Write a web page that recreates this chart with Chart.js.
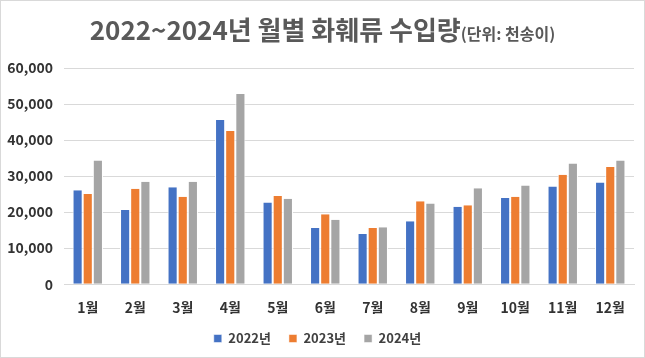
<!DOCTYPE html>
<html>
<head>
<meta charset="utf-8">
<script src="https://cdn.jsdelivr.net/npm/chart.js@4"></script>
<style>
  html, body { margin: 0; padding: 0; background: #fff; }
  .frame {
    position: relative;
    width: 643px; height: 356px;
    border: 1px solid #d9d9d9;
    font-family: "Noto Sans CJK KR", "Noto Sans", sans-serif;
  }
  .title {
    position: absolute; left: 0; right: 0; top: 13px;
    text-align: center; color: #595959; font-weight: bold;
    font-size: 26px; line-height: 30px; white-space: nowrap;
  }
  .title small { font-size: 16px; }
  canvas { position: absolute; left: 0; top: 0; }
</style>
</head>
<body>
<div class="frame">
  <canvas id="myChart" width="643" height="356"></canvas>
  <div class="title">2022~2024년 월별 화훼류 수입량<small>(단위: 천송이)</small></div>
</div>
<script>
// 월별 라벨
const meses = ['1월', '2월', '3월', '4월', '5월', '6월', '7월', '8월', '9월', '10월', '11월', '12월'];

// 연도별 수입량 (천송이)
const dados2022 = [26100, 20600, 26900, 45600, 22700, 15600, 13900, 17500, 21500, 23900, 27100, 28200];
const dados2023 = [25000, 26500, 24300, 42500, 24500, 19400, 15600, 23000, 21900, 24300, 30400, 32500];
const dados2024 = [34300, 28400, 28400, 52800, 23700, 17900, 15800, 22400, 26600, 27400, 33500, 34300];

const eixoY = { min: 0, max: 60000, passo: 10000 };

const ctx = document.getElementById('myChart').getContext('2d');

function serie(label, data, cor) {
    return {
        label: label,
        data: data,
        backgroundColor: cor,
        borderColor: '#ffffff',
        borderWidth: { left: 1, right: 1, top: 0, bottom: 0 },
        borderSkipped: false,
        barPercentage: 1,
        categoryPercentage: 0.64
    };
}

const fonte = { family: '"Noto Sans CJK KR"', size: 13, weight: 'bold' };
const fonteEixo = { family: '"Noto Sans CJK KR"', size: 14, weight: 'bold' };

const graph = new Chart(ctx, {
    type: 'bar',
    data: {
        labels: meses,
        datasets: [
            serie('2022년', dados2022, '#4472c4'),
            serie('2023년', dados2023, '#ed7d31'),
            serie('2024년', dados2024, '#a5a5a5')
        ]
    },
    options: {
        responsive: false,
        animation: false,
        layout: {
            padding: { top: 67, left: 0, right: 10, bottom: 2 }
        },
        plugins: {
            legend: {
                display: true,
                position: 'bottom',
                labels: {
                    boxWidth: 8,
                    boxHeight: 8,
                    padding: 18,
                    color: '#404040',
                    font: fonte
                }
            },
            tooltip: { enabled: false }
        },
        scales: {
            y: {
                min: eixoY.min,
                max: eixoY.max,
                ticks: {
                    stepSize: eixoY.passo,
                    color: '#333333',
                    padding: 11,
                    font: fonteEixo,
                    callback: function (value) {
                        return value.toLocaleString('en-US');
                    }
                },
                grid: { color: '#d9d9d9', drawTicks: false },
                border: { display: false },
                afterFit: function (scale) {
                    scale.width = 63;
                }
            },
            x: {
                ticks: {
                    color: '#333333',
                    padding: 15,
                    font: fonteEixo
                },
                grid: { display: false, drawTicks: false },
                border: { color: '#d9d9d9' },
                // aproxima a legenda dos rótulos do eixo
                afterFit: function (scale) {
                    scale.height -= 17;
                }
            }
        }
    }
});
</script>
</body>
</html>
